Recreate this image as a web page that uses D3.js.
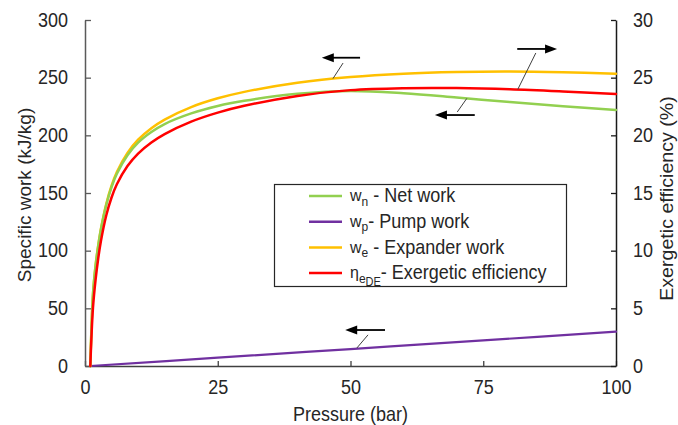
<!DOCTYPE html>
<html>
<head>
<meta charset="utf-8">
<script src="https://cdn.jsdelivr.net/npm/d3@7"></script>
<style>
  html, body { margin: 0; padding: 0; background: #fff; }
  svg { display: block; font-family: "Liberation Sans", Arial, sans-serif; }
</style>
</head>
<body>
<svg id="chart" width="678" height="425"></svg>
<script>
// Pressure sweep (bar) shared by the expander, net-work and efficiency curves
const pressure      = [1, 1.5, 2, 2.5, 3, 4, 5, 6, 8, 10, 12.5, 15, 20, 25, 30, 40, 50, 60, 70, 80, 90, 100];
// Specific work, kJ/kg
const expanderWork  = [0, 62.2, 87.5, 104.9, 119.0, 140.5, 156.3, 168.2, 184.8, 196.2, 206.2, 213.7, 224.5, 232.1, 237.7, 245.6, 250.6, 253.5, 254.9, 255.3, 254.7, 253.5];
const netWork       = [0, 62.0, 87.2, 104.4, 118.4, 139.6, 155.1, 166.7, 182.8, 193.7, 202.9, 209.8, 219.0, 225.5, 230.0, 236.0, 238.5, 236.5, 232.8, 228.8, 225.3, 222.0];
// Exergetic efficiency, %
const exergeticEff  = [0, 5.03, 7.51, 9.36, 10.84, 13.05, 14.61, 15.76, 17.34, 18.42, 19.38, 20.11, 21.19, 21.97, 22.56, 23.42, 23.92, 24.09, 24.1, 24.0, 23.81, 23.58];
// Pump work, kJ/kg
const pumpPressure  = [1, 25, 50, 75, 100];
const pumpWork      = [0, 7.2, 14.7, 22.2, 29.8];

const xTicks     = [0, 25, 50, 75, 100];
const leftTicks  = [0, 50, 100, 150, 200, 250, 300];
const rightTicks = [0, 5, 10, 15, 20, 25, 30];

const xTitle     = "Pressure (bar)";
const leftTitle  = "Specific work (kJ/kg)";
const rightTitle = "Exergetic efficiency (%)";

const seriesColors = { net: "#92D050", pump: "#7030A0", expander: "#FFC000", eff: "#FF0000" };

// Legend entries: symbol, subscript, second-level subscript, description
const legendSymbols = ["w", "w", "w", "\u03B7"];
const legendSubs    = ["n", "p", "e", "e"];
const legendSubSubs = ["", "", "", "DE"];
const legendTexts   = [" - Net work", "- Pump work", " - Expander work", "- Exergetic efficiency"];
const legendKeys    = ["net", "pump", "expander", "eff"];

// Axis-pointer annotations (data units: pressure, and the value on the indicated axis)
const pointerNotes = [
  { axis: "left",  from: [51.8, 267.3], to: [44.6, 267.3], leader: [[48.6, 262.7], [46.7, 249.2]] },
  { axis: "right", from: [81.4, 27.49], to: [88.9, 27.49], leader: [[84.9, 27.14], [81.5, 23.98]] },
  { axis: "left",  from: [73.4, 217.6], to: [65.9, 217.6], leader: [[71.9, 232.0], [70.1, 220.2]] },
  { axis: "left",  from: [56.5, 31.2],  to: [49.0, 31.2],  leader: [[53.3, 27.0],  [51.2, 15.6]] }
];

const W = 678, H = 425;
const plot = { left: 85, right: 616, top: 20, bottom: 366 };
const FONT = 18;
const STRETCH = 1.08;
const TEXT_COLOR = "#262626";

const svg = d3.select("#chart");

const x  = d3.scaleLinear().domain([0, 100]).range([plot.left, plot.right]);
const yL = d3.scaleLinear().domain([0, 300]).range([plot.bottom, plot.top]);
const yR = d3.scaleLinear().domain([0, 30]).range([plot.bottom, plot.top]);

function styleAxis(g, domainColor) {
  g.attr("font-family", null).attr("font-size", null);
  g.select(".domain").attr("stroke", domainColor).attr("stroke-width", 1.5);
  g.selectAll(".tick line").attr("stroke", domainColor).attr("stroke-width", 1.3);
  g.selectAll(".tick text")
    .attr("fill", TEXT_COLOR)
    .style("font-size", FONT + "px")
    .attr("transform", `scale(1,${STRETCH})`);
}

// Bottom axis
svg.append("g")
  .attr("transform", `translate(0,${plot.bottom})`)
  .call(d3.axisBottom(x).tickValues(xTicks).tickFormat(d3.format("d"))
        .tickSizeInner(-5).tickSizeOuter(0).tickPadding(13))
  .call(g => styleAxis(g, "#404040"));

// Left axis
svg.append("g")
  .attr("transform", `translate(${plot.left},0)`)
  .call(d3.axisLeft(yL).tickValues(leftTicks).tickFormat(d3.format("d"))
        .tickSizeInner(-6).tickSizeOuter(0).tickPadding(17))
  .call(g => styleAxis(g, "#5a5a5a"));

// Right axis
svg.append("g")
  .attr("transform", `translate(${plot.right},0)`)
  .call(d3.axisRight(yR).tickValues(rightTicks).tickFormat(d3.format("d"))
        .tickSizeInner(-5).tickSizeOuter(0).tickPadding(17))
  .call(g => styleAxis(g, "#1a1a1a"));

// Axis titles
svg.append("text")
  .attr("transform", `translate(${(plot.left + plot.right) / 2},${H - 4}) scale(1,${STRETCH})`)
  .attr("text-anchor", "middle")
  .attr("fill", TEXT_COLOR)
  .style("font-size", FONT + "px")
  .text(xTitle);

svg.append("text")
  .attr("transform", `translate(31,195) rotate(-90) scale(${STRETCH * 0.98},1)`)
  .attr("text-anchor", "middle")
  .attr("fill", TEXT_COLOR)
  .style("font-size", FONT + "px")
  .text(leftTitle);

svg.append("text")
  .attr("transform", `translate(673,198.5) rotate(-90) scale(${STRETCH * 1.01},1)`)
  .attr("text-anchor", "middle")
  .attr("fill", TEXT_COLOR)
  .style("font-size", FONT + "px")
  .text(rightTitle);

// Curves (centripetal Catmull-Rom keeps the steep low-pressure rise smooth)
const smooth = d3.curveCatmullRom.alpha(0.5);
const lineL = d3.line().x(d => x(d[0])).y(d => yL(d[1])).curve(smooth);
const lineR = d3.line().x(d => x(d[0])).y(d => yR(d[1])).curve(smooth);

const curves = svg.append("g").attr("fill", "none").attr("stroke-linejoin", "round").attr("stroke-linecap", "round");

curves.append("path")
  .attr("d", lineL(d3.zip(pumpPressure, pumpWork)))
  .attr("stroke", seriesColors.pump).attr("stroke-width", 2.2);

curves.append("path")
  .attr("d", lineL(d3.zip(pressure, expanderWork)))
  .attr("stroke", seriesColors.expander).attr("stroke-width", 2.5);

curves.append("path")
  .attr("d", lineL(d3.zip(pressure, netWork)))
  .attr("stroke", seriesColors.net).attr("stroke-width", 2.5);

curves.append("path")
  .attr("d", lineR(d3.zip(pressure, exergeticEff)))
  .attr("stroke", seriesColors.eff).attr("stroke-width", 2.5);

// Pointer arrows that tie each curve to its axis
const notes = svg.append("g");
pointerNotes.forEach(n => {
  const ys = n.axis === "left" ? yL : yR;
  const [x0, y0] = [x(n.from[0]), ys(n.from[1])];
  const [x1, y1] = [x(n.to[0]), ys(n.to[1])];
  const dir = Math.sign(x1 - x0);
  const headLen = 12, headHalf = 4.5;
  notes.append("line")
    .attr("x1", x(n.leader[0][0])).attr("y1", ys(n.leader[0][1]))
    .attr("x2", x(n.leader[1][0])).attr("y2", ys(n.leader[1][1]))
    .attr("stroke", "#404040").attr("stroke-width", 1);
  notes.append("line")
    .attr("x1", x0).attr("y1", y0)
    .attr("x2", x1 - dir * headLen * 0.8).attr("y2", y1)
    .attr("stroke", "#000").attr("stroke-width", 1.8);
  notes.append("path")
    .attr("d", `M${x1},${y1} L${x1 - dir * headLen},${y1 - headHalf} L${x1 - dir * headLen},${y1 + headHalf} Z`)
    .attr("fill", "#000");
});

// Legend
const legend = svg.append("g");
legend.append("rect")
  .attr("x", 274.5).attr("y", 184.5).attr("width", 292).attr("height", 102)
  .attr("fill", "#fff").attr("stroke", "#262626").attr("stroke-width", 1.2);

const rowY = [196, 221.7, 247.4, 273];
legendKeys.forEach((k, i) => {
  const yy = rowY[i];
  legend.append("line")
    .attr("x1", 309).attr("x2", 342).attr("y1", yy).attr("y2", yy)
    .attr("stroke", seriesColors[k]).attr("stroke-width", 2.5);
  const t = legend.append("text")
    .attr("transform", `translate(350,${yy}) scale(1,${STRETCH})`)
    .attr("y", 6)
    .attr("fill", TEXT_COLOR)
    .style("font-size", FONT + "px");
  t.append("tspan").text(legendSymbols[i]).style("font-size", (FONT - 2) + "px").attr("dy", -1);
  t.append("tspan").text(legendSubs[i]).style("font-size", "12px").attr("dy", 4);
  let back = -3;
  if (legendSubSubs[i]) {
    t.append("tspan").text(legendSubSubs[i]).style("font-size", "11px").attr("dy", 3);
    back = -6;
  }
  t.append("tspan").text(legendTexts[i]).attr("dy", back);
});
</script>
</body>
</html>
